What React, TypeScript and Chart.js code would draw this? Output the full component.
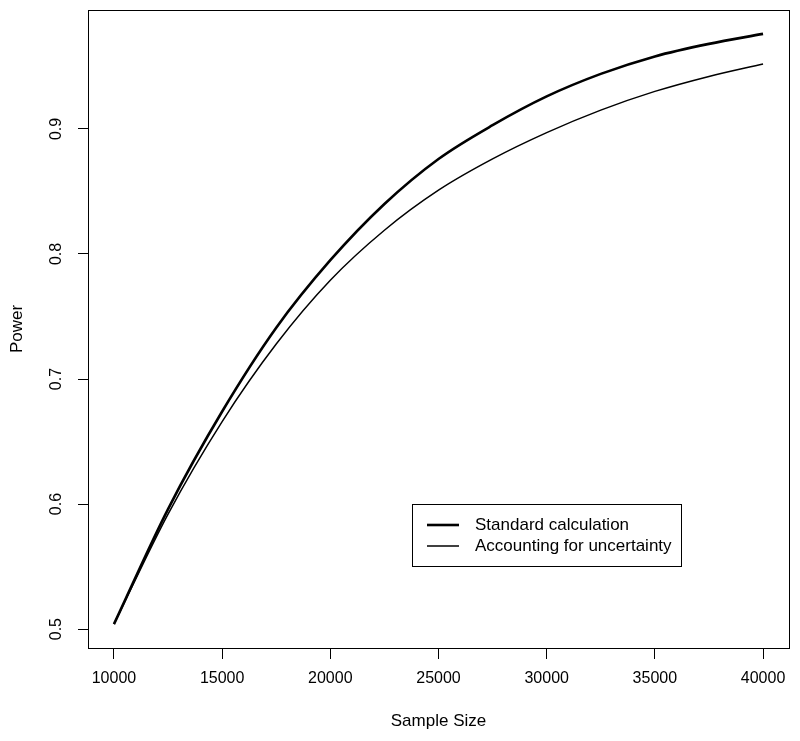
import React, { useEffect, useRef } from "react";
import { Chart, registerables } from "chart.js";

Chart.register(...registerables);

const sampleSizes = [10000, 12500, 15000, 17500, 20000, 22500, 25000, 27500, 30000, 32500, 35000, 37500, 40000];
const standardPower = [0.504, 0.596, 0.674, 0.741, 0.795, 0.840, 0.876, 0.903, 0.926, 0.944, 0.958, 0.968, 0.976];
const uncertaintyPower = [0.504, 0.592, 0.666, 0.728, 0.779, 0.819, 0.851, 0.876, 0.897, 0.915, 0.930, 0.942, 0.952];
const xTicks = [10000, 15000, 20000, 25000, 30000, 35000, 40000];
const yTicks = [0.5, 0.6, 0.7, 0.8, 0.9];
const seriesNames = ["Standard calculation", "Accounting for uncertainty"];
const xTitle = "Sample Size";
const yTitle = "Power";

const FONT = "Liberation Sans, Arial, Helvetica, sans-serif";

const framePlugin = {
  id: "rframe",
  afterDraw(chart: any) {
    const ctx = chart.ctx;
    const a = chart.chartArea;
    const ys = chart.scales.y;
    ctx.save();
    // box
    ctx.strokeStyle = "#000";
    ctx.lineWidth = 1;
    ctx.strokeRect(Math.round(a.left) + 0.5, Math.round(a.top) + 0.5, Math.round(a.right - a.left), Math.round(a.bottom - a.top));
    // y tick labels rotated
    ctx.fillStyle = "#000";
    ctx.font = "16px " + FONT;
    ctx.textAlign = "center";
    ctx.textBaseline = "middle";
    for (const t of ys.ticks) {
      const py = ys.getPixelForValue(t.value);
      ctx.save();
      ctx.translate(57, py);
      ctx.rotate(-Math.PI / 2);
      ctx.fillText(String(t.value), 0, 0);
      ctx.restore();
    }
    // axis titles
    ctx.font = "17px " + FONT;
    ctx.save();
    ctx.translate(17, (a.top + a.bottom) / 2);
    ctx.rotate(-Math.PI / 2);
    ctx.fillText(yTitle, 0, 0);
    ctx.restore();
    ctx.fillText(xTitle, (a.left + a.right) / 2, 721);
    // legend
    const lx = 412, ly = 504, lw = 269, lh = 62;
    ctx.fillStyle = "#fff";
    ctx.fillRect(lx, ly, lw, lh);
    ctx.strokeStyle = "#000";
    ctx.lineWidth = 1;
    ctx.strokeRect(lx + 0.5, ly + 0.5, lw, lh);
    const rows = [525, 546];
    chart.data.datasets.forEach((ds: any, i: number) => {
      ctx.beginPath();
      ctx.strokeStyle = ds.borderColor;
      ctx.lineWidth = ds.borderWidth;
      ctx.moveTo(427, rows[i]);
      ctx.lineTo(459, rows[i]);
      ctx.stroke();
      ctx.fillStyle = "#000";
      ctx.textAlign = "left";
      ctx.fillText(ds.label, 475, rows[i]);
    });
    ctx.restore();
  },
};

export default function App() {
  const ref = useRef<HTMLCanvasElement>(null);
  useEffect(() => {
    if (!ref.current) return;
    const chart = new Chart(ref.current, {
      type: "line",
      data: {
        datasets: [
          {
            label: seriesNames[0],
            data: sampleSizes.map((x, i) => ({ x, y: standardPower[i] })),
            borderColor: "#000",
            borderWidth: 2.6,
            pointRadius: 0,
            cubicInterpolationMode: "monotone",
            fill: false,
          },
          {
            label: seriesNames[1],
            data: sampleSizes.map((x, i) => ({ x, y: uncertaintyPower[i] })),
            borderColor: "#000",
            borderWidth: 1.5,
            pointRadius: 0,
            cubicInterpolationMode: "monotone",
            fill: false,
          },
        ],
      },
      options: {
        responsive: false,
        animation: false,
        layout: { padding: { top: 10, right: 11, left: 0, bottom: 0 } },
        plugins: { legend: { display: false }, tooltip: { enabled: false } },
        scales: {
          x: {
            type: "linear",
            min: 8800,
            max: 41200,
            afterBuildTicks: (s: any) => {
              s.ticks = xTicks.map((v) => ({ value: v }));
            },
            afterFit: (s: any) => {
              s.height = 93;
            },
            border: { display: false },
            grid: { drawOnChartArea: false, drawTicks: true, tickLength: 11, color: "#000", lineWidth: 1 },
            ticks: { color: "#000", font: { family: FONT, size: 16 }, padding: 10, maxRotation: 0, autoSkip: false, callback: (v: any) => String(v) },
          },
          y: {
            type: "linear",
            min: 0.4849,
            max: 0.9951,
            afterBuildTicks: (s: any) => {
              s.ticks = yTicks.map((v) => ({ value: v }));
            },
            afterFit: (s: any) => {
              s.width = 88;
            },
            border: { display: false },
            grid: { drawOnChartArea: false, drawTicks: true, tickLength: 10, color: "#000", lineWidth: 1 },
            ticks: { display: false },
          },
        },
      },
      plugins: [framePlugin],
    });
    return () => chart.destroy();
  }, []);
  return (
    <div style={{ position: "fixed", left: 0, top: 0, width: 800, height: 741, background: "#fff" }}>
      <canvas ref={ref} width={800} height={741} style={{ display: "block" }} />
    </div>
  );
}
